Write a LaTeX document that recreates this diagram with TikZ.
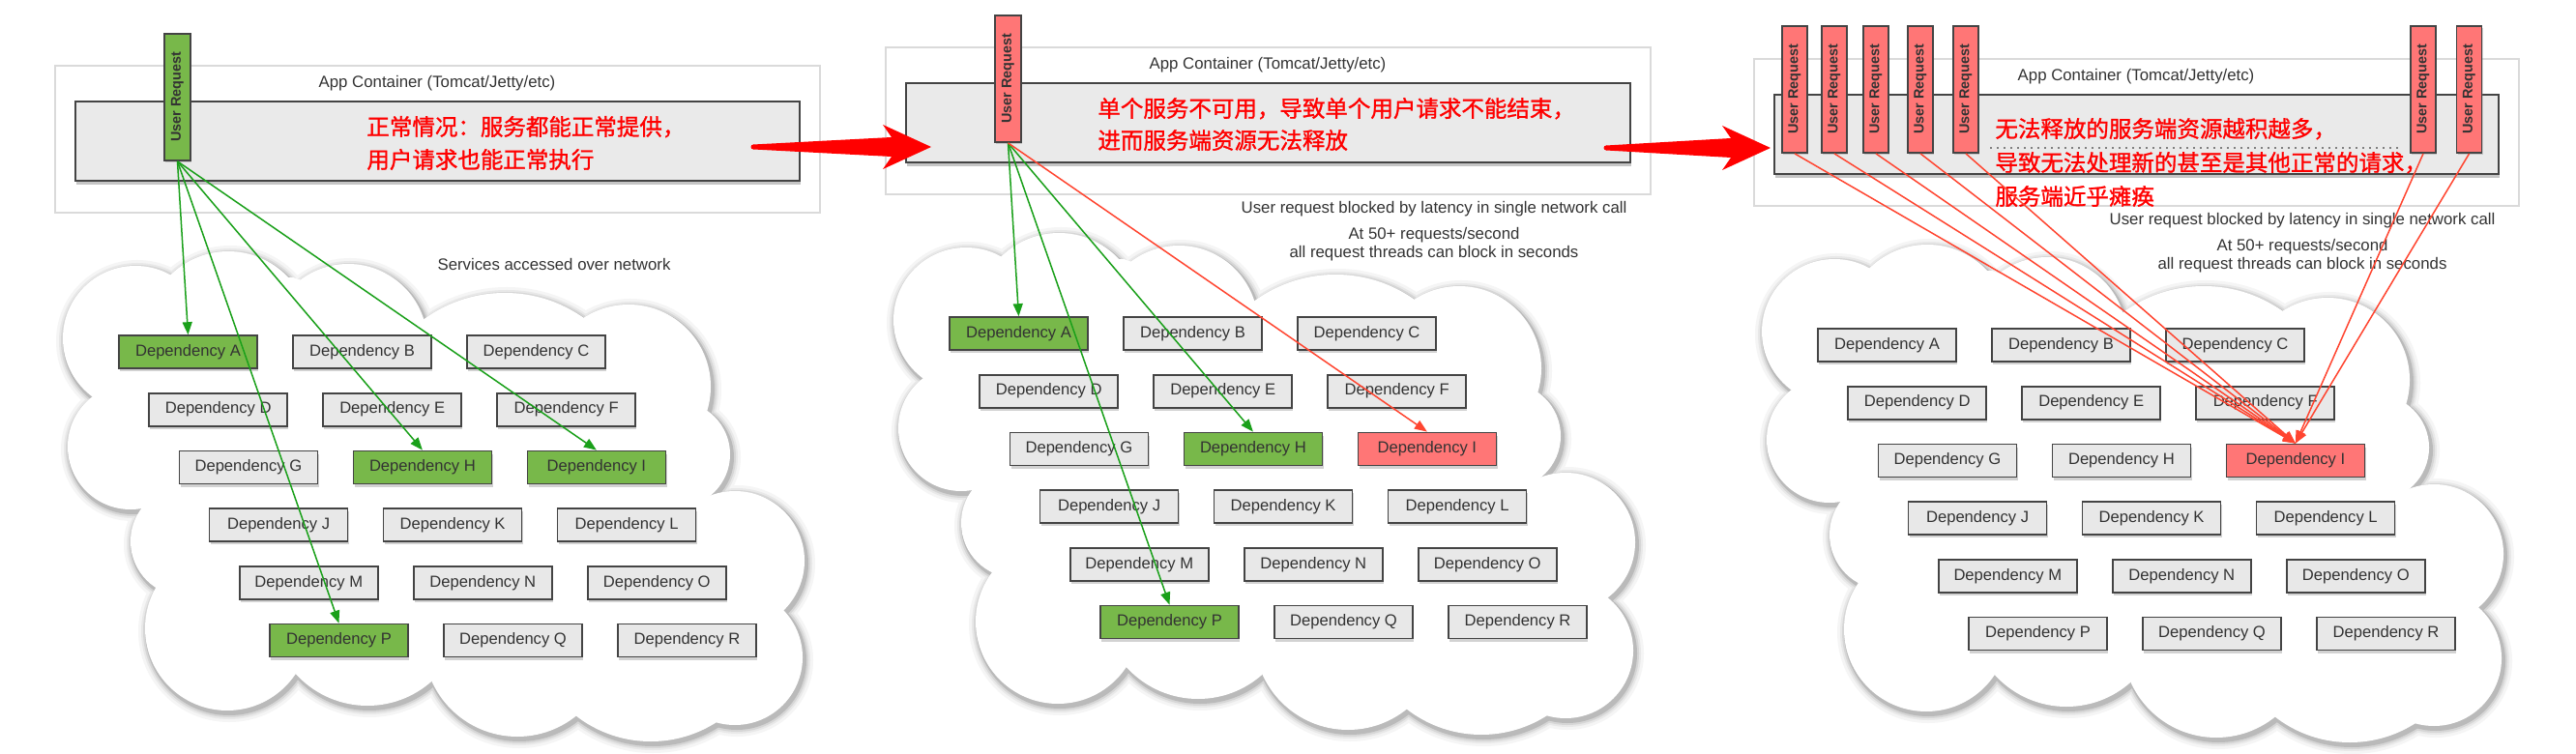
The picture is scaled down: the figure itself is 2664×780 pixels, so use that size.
\documentclass[tikz,border=0pt]{standalone}
\usepackage{fontspec}
\setmainfont{Liberation Sans}
\newfontfamily\cjk[FakeBold=1.2]{Noto Sans CJK SC}
\usetikzlibrary{shadows,arrows.meta,calc}

\definecolor{depgray}{HTML}{E8E8E8}
\definecolor{depgreen}{HTML}{78B84A}
\definecolor{depred}{HTML}{FF7676}
\definecolor{edgegray}{HTML}{444444}
\definecolor{txt}{HTML}{333333}
\definecolor{gline}{HTML}{1AA01A}
\definecolor{rline}{HTML}{FF4530}
\definecolor{boxline}{HTML}{DADADA}
\definecolor{innerfill}{HTML}{EAEAEA}

\tikzset{
  dep/.style={draw=edgegray, line width=0.8pt, fill=depgray, minimum width=71.5pt,
    minimum height=17pt, inner sep=0pt, text=txt, font=\fontsize{8.3}{10}\selectfont,
    drop shadow={opacity=0.35, shadow xshift=0.6pt, shadow yshift=-1.6pt}},
  ok/.style={fill=depgreen},
  bad/.style={fill=depred},
  ur/.style={draw=edgegray, line width=0.9pt, minimum width=13.5pt, minimum height=65.5pt,
    inner sep=0pt, text=txt, font=\fontsize{7.2}{8}\selectfont\bfseries,
    drop shadow={opacity=0.35, shadow xshift=0.6pt, shadow yshift=-1.2pt}},
  outerbox/.style={draw=boxline, line width=0.8pt, fill=white, minimum width=395.5pt,
    minimum height=76pt, inner sep=0pt},
  innerbox/.style={draw=edgegray, line width=0.9pt, fill=innerfill, minimum width=374.5pt,
    minimum height=41pt, inner sep=0pt,
    drop shadow={opacity=0.45, shadow xshift=0.6pt, shadow yshift=-2pt}},
  lbl/.style={text=txt, font=\fontsize{8.4}{10}\selectfont, inner sep=0pt},
  cn/.style={text=red, align=left, inner sep=0pt, anchor=west},
  gconn/.style={draw=gline, line width=0.75pt, -{Triangle[length=6.5pt,width=5pt]}},
  rconn/.style={draw=rline, line width=0.75pt, -{Triangle[length=6.5pt,width=5pt]}},
}

\newcommand\depnode[5]{%
  \node[dep,#5] (#1#2) at ({194.5+31.2*#3+180*#4},{364+59.7*#3}) {Dependency #2};}
\newcommand\depgrid[5]{%
  \depnode{#1}{A}{0}{0}{#2}\depnode{#1}{B}{0}{1}{}\depnode{#1}{C}{0}{2}{}%
  \depnode{#1}{D}{1}{0}{}\depnode{#1}{E}{1}{1}{}\depnode{#1}{F}{1}{2}{}%
  \depnode{#1}{G}{2}{0}{}\depnode{#1}{H}{2}{1}{#3}\depnode{#1}{I}{2}{2}{#4}%
  \depnode{#1}{J}{3}{0}{}\depnode{#1}{K}{3}{1}{}\depnode{#1}{L}{3}{2}{}%
  \depnode{#1}{M}{4}{0}{}\depnode{#1}{N}{4}{1}{}\depnode{#1}{O}{4}{2}{}%
  \depnode{#1}{P}{5}{0}{#5}\depnode{#1}{Q}{5}{1}{}\depnode{#1}{R}{5}{2}{}%
}
\newcommand\panelframe[1]{%
  \node[outerbox] (#1outer) at (452.5,144) {};
  \node[innerbox] (#1inner) at (452.5,146) {};
  \node[lbl] (#1title) at (452,86) {App Container (Tomcat/Jetty/etc)};
}
\def\cloudtop{140/350/75, 236/345/85, 360/355/82, 522/445/142, 650/400/85,
  700/470/55, 760/580/72, 192/560/57, 135/462/65}
\def\cloudbot{760/680/70, 673/641/126, 535/665/97, 380/630/100, 235/650/85}
\newcommand\cloudlayer[3]{% #1 extra radius, #2 fill, #3 bottom shift
  \foreach \cx/\cy/\cr in \cloudtop {\fill[#2] (\cx,\cy) circle ({\cr+#1});}
  \begin{scope}[shift={(0,#3)}]
  \foreach \cx/\cy/\cr in \cloudbot {\fill[#2] (\cx,\cy) circle ({\cr+#1});}
  \end{scope}}
\newcommand\drawcloud[1]{%
  \begin{scope}[shift={(2,3)}]
    \cloudlayer{9}{black!4}{#1}
    \cloudlayer{6}{black!9}{#1}
    \cloudlayer{4}{black!16}{#1}
    \cloudlayer{2}{black!27}{#1}
  \end{scope}
  \cloudlayer{0}{white}{#1}
  \fill[white] (168,288) -- (303,287) -- (436,332) -- (607,330) -- (730,427) -- (733,517)
    -- (810,627) -- (740,{700+#1}) -- (607,{700+#1}) -- (460,{680+#1}) -- (300,{680+#1})
    -- (172,613) -- (147,520) -- (100,412) -- cycle;
}
\newcommand\bigarrow[2]{%
  \fill[red] (#1) circle (2.5);
  \fill[red] ($(#1)+(0,-2.5)$) -- ($(#2)+(-41,-10)$) -- ($(#2)+(-50,-23)$) -- (#2)
    -- ($(#2)+(-50,23)$) -- ($(#2)+(-41,10)$) -- ($(#1)+(0,2.5)$) -- cycle;
}

\begin{document}
\begin{tikzpicture}[x=0.5pt,y=-0.5pt]
\useasboundingbox[fill=white] (0,0) rectangle (2664,780);

% ---------------- Panel 1 ----------------
\begin{scope}
  \panelframe{p1}
  \drawcloud{0}
  \depgrid{p1}{ok}{ok}{ok}{ok}
  \node[ur, fill=depgreen] (p1ur) at (183.5,100.5) {\rotatebox{90}{User Request}};
  \node[cn, font=\cjk\fontsize{11.75}{17}\selectfont] (p1note) at (379,148)
    {正常情况：服务都能正常提供，\\用户请求也能正常执行};
  \node[lbl] (p1net) at (573,273) {Services accessed over network};
  \draw[gconn] (p1ur.south) -- (p1A.north);
  \draw[gconn] (p1ur.south) -- (p1P.north);
  \draw[gconn] (p1ur.south) -- (p1H.north);
  \draw[gconn] (p1ur.south) -- (p1I.north);
\end{scope}

% ---------------- Panel 2 ----------------
\begin{scope}[shift={(859,-19)}]
  \panelframe{p2}
  \drawcloud{12}
  \depgrid{p2}{ok}{ok}{bad}{ok}
  \node[ur, fill=depred] (p2ur) at (183.5,100.5) {\rotatebox{90}{User Request}};
  \node[cn, font=\cjk\fontsize{11.75}{16.5}\selectfont] (p2note) at (276,147.5)
    {单个服务不可用，导致单个用户请求不能结束，\\进而服务端资源无法释放};
  \node[lbl] (p2lat) at (624,235) {User request blocked by latency in single network call};
  \node[lbl] (p2rate) at (624,262) {At 50+ requests/second};
  \node[lbl] (p2blk) at (624,281) {all request threads can block in seconds};
  \draw[gconn] (p2ur.south) -- (p2A.north);
  \draw[gconn] (p2ur.south) -- (p2P.north);
  \draw[gconn] (p2ur.south) -- (p2H.north);
  \draw[rconn] (p2ur.south) -- (p2I.north);
\end{scope}

% ---------------- Panel 3 ----------------
\begin{scope}[shift={(1757,-7)}]
  \panelframe{p3}
  \drawcloud{8}
  \depgrid{p3}{}{}{bad}{}
  \foreach \k/\ux in {1/99, 2/140, 3/183, 4/229, 5/276, 6/749, 7/796.5}
    {\node[ur, fill=depred, minimum width=13pt] (p3ur\k) at (\ux,99.5) {\rotatebox{90}{User Request}};}
  \coordinate (p3dotL) at (301,160);
  \coordinate (p3dotR) at (723,160);
  \draw[gray, line width=0.9pt, dash pattern=on 0.9pt off 2.6pt] (p3dotL) -- (p3dotR);
  \node[cn, font=\cjk\fontsize{11.75}{17.5}\selectfont] (p3note) at (306,175)
    {无法释放的服务端资源越积越多，\\导致无法处理新的甚至是其他正常的请求，\\服务端近乎瘫痪};
  \node[lbl] (p3lat) at (624,235) {User request blocked by latency in single network call};
  \node[lbl] (p3rate) at (624,262) {At 50+ requests/second};
  \node[lbl] (p3blk) at (624,281) {all request threads can block in seconds};
  \foreach \k in {1,...,7} {\draw[rconn] (p3ur\k.south) -- (p3I.north);}
\end{scope}

% ---------------- big arrows ----------------
\coordinate (a1t) at (779,152);
\coordinate (a1h) at (963,152);
\coordinate (a2t) at (1661,153);
\coordinate (a2h) at (1831,153);
\bigarrow{a1t}{a1h}
\bigarrow{a2t}{a2h}
\end{tikzpicture}
\end{document}
